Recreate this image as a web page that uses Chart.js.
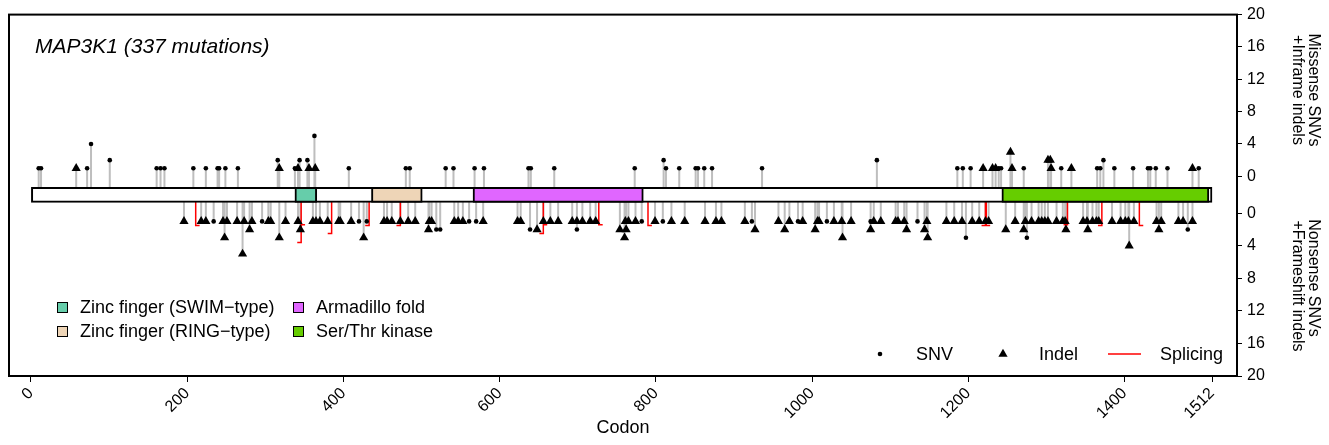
<!DOCTYPE html>
<html>
<head>
<meta charset="utf-8">
<script src="https://cdn.jsdelivr.net/npm/chart.js@4.4.0/dist/chart.umd.min.js"></script>
<style>
  html, body { margin: 0; padding: 0; background: #fff; }
</style>
</head>
<body>
<canvas id="myChart" width="1329" height="445"></canvas>
<script>
const FONT = "'Liberation Sans', Arial, sans-serif";

const chartTitle = 'MAP3K1 (337 mutations)';
const proteinLength = 1512;
const xTicks = [0, 200, 400, 600, 800, 1000, 1200, 1400, 1512];

const domainNames = ['Zinc finger (SWIM−type)', 'Zinc finger (RING−type)', 'Armadillo fold', 'Ser/Thr kinase'];
const domainRanges = [[338, 366], [436, 501], [566, 784], [1243, 1508]];
const domainColors = ['#66CDAA', '#EED5B7', '#E066FF', '#66CD00'];

// [codon, count]  upper half
const missenseSNV = [
  [10,1],[13,1],[72,1],[77,4],[101,2],[161,1],[166,1],[171,1],[208,1],[224,1],[239,1],[241,1],
  [249,1],[265,1],[316,2],[338,1],[344,2],[354,2],[363,5],[407,1],[480,1],[485,1],[531,1],[541,1],
  [568,1],[580,1],[637,1],[640,1],[670,1],[773,1],[810,2],[813,1],[830,1],[851,1],[854,1],[862,1],
  [872,1],[936,1],[1083,2],[1186,1],[1193,1],[1203,1],[1239,1],[1242,1],[1271,1],[1319,1],[1365,1],
  [1369,1],[1373,2],[1387,1],[1411,1],[1430,1],[1433,1],[1440,1],[1455,1],[1495,1]
];
const inframeIndel = [
  [58,1],[318,1],[342,1],[356,1],[364,1],[1219,1],[1231,1],[1235,1],[1254,3],[1256,1],
  [1302,2],[1305,2],[1306,1],[1332,1],[1487,1]
];

// [codon, count]  lower half
const nonsenseSNV = [
  [234,1],[296,1],[420,1],[430,1],[561,1],[570,1],[782,1],[809,1],[923,1],[982,1],[1019,1],[1075,1],[1135,1],
  [519,2],[524,2],[639,2],[699,2],[1481,2],
  [1197,3],[1275,3]
];
const frameshiftIndel = [
  [196,1],[218,1],[224,1],[246,1],[251,1],[264,1],[273,1],[283,1],[304,1],[307,1],[326,1],[342,1],
  [361,1],[365,1],[370,1],[380,1],[394,1],[396,1],[410,1],[452,1],[456,1],[462,1],[473,1],[483,1],
  [492,1],[510,1],[513,1],[542,1],[547,1],[553,1],[579,1],[623,1],[627,1],[656,1],[665,1],[675,1],
  [693,1],[699,1],[706,1],[716,1],[723,1],[761,1],[765,1],[774,1],[799,1],[820,1],[837,1],[863,1],
  [877,1],[884,1],[914,1],[957,1],[971,1],[988,1],[1007,1],[1009,1],[1028,1],[1038,1],[1050,1],
  [1079,1],[1088,1],[1107,1],[1110,1],[1118,1],[1147,1],[1172,1],[1182,1],[1192,1],[1205,1],[1214,1],
  [1222,1],[1226,1],[1260,1],[1273,1],[1281,1],[1290,1],[1294,1],[1298,1],[1302,1],[1313,1],[1321,1],
  [1324,1],[1347,1],[1352,1],[1359,1],[1364,1],[1367,1],[1384,1],[1395,1],[1401,1],[1405,1],[1412,1],
  [1441,1],[1447,1],[1469,1],[1475,1],[1487,1],
  [280,2],[345,2],[509,2],[648,2],[754,2],[762,2],[927,2],[965,2],[1004,2],[1075,2],[1121,2],[1144,2],
  [1248,2],[1271,2],[1325,2],[1353,2],[1444,2],
  [248,3],[318,3],[426,3],[760,3],[1039,3],[1148,3],
  [1406,4],
  [271,5]
];
// [codon, depth, side]  side: 1 = tick to the right, -1 = tick to the left
const splicing = [
  [211,1.5,1],[346,1.4,1],[346,3.6,-1],[385,2.5,-1],[433,1.5,-1],[473,1.5,-1],[656,1.4,1],[656,2.5,-1],
  [727,1.4,1],[790,1.5,1],[1222,1.5,-1],[1223,1.5,1],[1327,1.4,-1],[1371,1.5,-1],[1419,1.5,1]
];

const BAR_EDGE = -1.4; // stems start at the edge of the protein bar

let stems = (list) => {
  const out = [];
  list.forEach(([pos, n]) => { out.push({x: pos, y: BAR_EDGE}, {x: pos, y: n}, {x: pos, y: null}); });
  return out;
};
let splices = (list) => {
  const out = [];
  list.forEach(([pos, d, side]) => {
    out.push({x: pos, y: BAR_EDGE}, {x: pos, y: d}, {x: pos + side * 5, y: d}, {x: pos, y: null});
  });
  return out;
};
let points = (list) => list.map(([pos, n]) => ({x: pos, y: n}));

const stemStyle = { type: 'line', borderColor: '#BEBEBE', borderWidth: 2, pointRadius: 0, tension: 0, clip: false, order: 3 };
const dotStyle = { type: 'scatter', pointStyle: 'circle', pointRadius: 2.3, backgroundColor: '#000', borderWidth: 0, clip: false, order: 0 };
const triStyle = { type: 'scatter', pointStyle: 'triangle', pointRadius: 5.3, backgroundColor: '#000', borderWidth: 0, clip: false, order: 0 };

const datasets = [
  Object.assign({ data: points(missenseSNV), yAxisID: 'yTop' }, dotStyle),
  Object.assign({ data: points(inframeIndel), yAxisID: 'yTop' }, triStyle),
  Object.assign({ data: points(nonsenseSNV), yAxisID: 'yBot' }, dotStyle),
  Object.assign({ data: points(frameshiftIndel), yAxisID: 'yBot' }, triStyle),
  {
    type: 'bar', indexAxis: 'y', xAxisID: 'x', yAxisID: 'yMid',
    data: [{x: [0, proteinLength], y: 18.5}].concat(domainRanges.map(r => ({x: r, y: 18.5}))),
    backgroundColor: ['#FFFFFF'].concat(domainColors),
    borderColor: '#000', borderWidth: 2, borderSkipped: false, barThickness: 15, order: 1
  },
  { type: 'line', data: splices(splicing), yAxisID: 'yBot', borderColor: '#FF0000', borderWidth: 1.5,
    pointRadius: 0, tension: 0, clip: false, order: 2 },
  Object.assign({ data: stems(missenseSNV.concat(inframeIndel)), yAxisID: 'yTop' }, stemStyle),
  Object.assign({ data: stems(nonsenseSNV.concat(frameshiftIndel)), yAxisID: 'yBot' }, stemStyle)
];

const tickFont = { family: FONT, size: 16 };
let sideAxis = (weight, extra) => Object.assign({
  type: 'linear', position: 'right', stack: 'y', stackWeight: weight, min: 0, max: 20,
  afterFit: s => { s.width = 92; },
  ticks: { stepSize: 4, autoSkip: false, color: '#000', font: tickFont, padding: 5, callback: v => String(v) },
  grid: { drawOnChartArea: false, color: '#000', tickLength: 5 },
  border: { display: false }
}, extra);

const decorations = {
  id: 'decorations',
  afterDraw(chart) {
    const ctx = chart.ctx;
    const a = chart.chartArea;
    ctx.save();
    ctx.strokeStyle = '#000';
    ctx.lineWidth = 2;
    ctx.strokeRect(a.left, a.top, a.right - a.left, a.bottom - a.top);

    ctx.fillStyle = '#000';
    ctx.textBaseline = 'middle';
    ctx.font = 'italic 21px ' + FONT;
    ctx.fillText(chartTitle, 35, 47);

    // domain legend
    ctx.font = '18px ' + FONT;
    const slots = [[57, 307], [57, 331], [293, 307], [293, 331]];
    domainNames.forEach((name, i) => {
      const [lx, ly] = slots[i];
      ctx.fillStyle = domainColors[i];
      ctx.fillRect(lx, ly - 5, 10, 10);
      ctx.lineWidth = 1;
      ctx.strokeRect(lx + 0.5, ly - 4.5, 10, 10);
      ctx.fillStyle = '#000';
      ctx.fillText(name, lx + 23, ly + 1);
    });

    // mutation type legend
    const ly = 354;
    ctx.beginPath(); ctx.arc(880, ly, 2.3, 0, Math.PI * 2); ctx.fill();
    ctx.fillText('SNV', 916, ly + 1);
    ctx.beginPath();
    ctx.moveTo(1003, ly - 5.3); ctx.lineTo(1007.6, ly + 2.65); ctx.lineTo(998.4, ly + 2.65);
    ctx.closePath(); ctx.fill();
    ctx.fillText('Indel', 1039, ly + 1);
    ctx.strokeStyle = '#FF0000'; ctx.lineWidth = 1.5;
    ctx.beginPath(); ctx.moveTo(1108, ly); ctx.lineTo(1141, ly); ctx.stroke();
    ctx.fillText('Splicing', 1160, ly + 1);

    // side titles
    ctx.font = '16px ' + FONT;
    ctx.textAlign = 'center';
    const side = [['Missense SNVs', 1313, 90], ['+Inframe indels', 1297, 90],
                  ['Nonsense SNVs', 1313, 278], ['+Frameshift indels', 1297, 286]];
    side.forEach(([t, x, y]) => {
      ctx.save(); ctx.translate(x, y); ctx.rotate(Math.PI / 2); ctx.fillText(t, 0, 0); ctx.restore();
    });
    ctx.restore();
  }
};

const ctx = document.getElementById('myChart');
new Chart(ctx, {
  type: 'scatter',
  data: { datasets: datasets },
  options: {
    responsive: false,
    animation: false,
    layout: { padding: { left: 9, top: 14, right: 0, bottom: 0 } },
    plugins: { legend: { display: false }, tooltip: { enabled: false } },
    scales: {
      x: {
        type: 'linear', position: 'bottom', min: -28, max: 1544,
        afterBuildTicks: s => { s.ticks = xTicks.map(v => ({ value: v })); },
        afterFit: s => { s.height = 69; },
        grid: { drawOnChartArea: false, color: '#000', tickLength: 6 },
        border: { display: false },
        ticks: { color: '#000', font: tickFont, minRotation: 45, maxRotation: 45, autoSkip: false,
                 padding: 2, callback: v => String(v) },
        title: { display: true, text: 'Codon', color: '#000', font: { family: FONT, size: 18 },
                 padding: { top: 0, bottom: 6 } }
      },
      yTop: sideAxis(162, {}),
      yMid: {
        type: 'linear', position: 'right', stack: 'y', stackWeight: 37, min: 0, max: 37,
        afterFit: s => { s.width = 92; },
        ticks: { display: false }, grid: { display: false }, border: { display: false }
      },
      yBot: sideAxis(163, { reverse: true })
    }
  },
  plugins: [decorations]
});
</script>
</body>
</html>
